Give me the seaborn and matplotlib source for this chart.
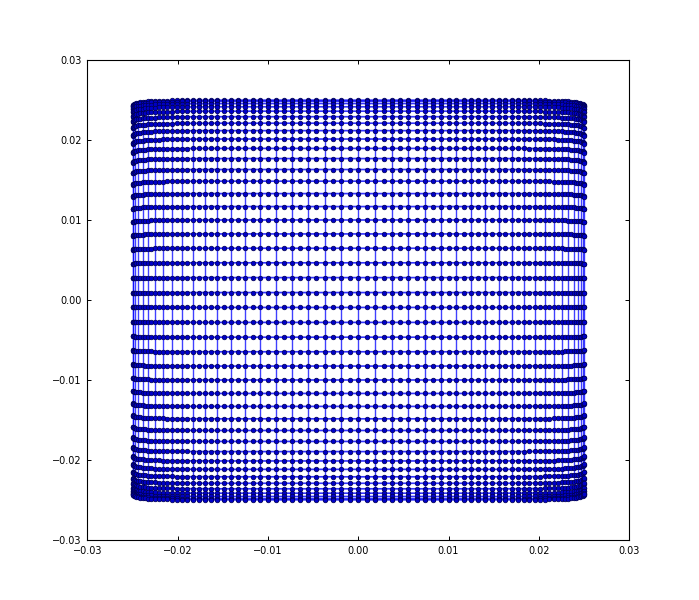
import numpy as np
import pandas as pd
import matplotlib
matplotlib.use("Agg")
import matplotlib.pyplot as plt
import seaborn as sns

# column positions of the dots (x 1e-3), left to right
x_dots = [-25.00, -24.98, -24.93, -24.84, -24.72, -24.56, -24.37, -24.15, -23.89, -23.60,
          -23.27, -22.91, -22.52, -22.10, -21.65, -21.17, -20.66, -20.12, -19.55, -18.95,
          -18.33, -17.68, -17.00, -16.31, -15.59, -14.85, -14.08, -13.30, -12.50, -11.68,
          -10.85, -10.00, -9.13, -8.26, -7.37, -6.47, -5.56, -4.65, -3.73, -2.80,
          -1.87, -0.93, 0.00, 0.93, 1.87, 2.80, 3.73, 4.65, 5.56, 6.47,
          7.37, 8.26, 9.13, 10.00, 10.85, 11.68, 12.50, 13.30, 14.08, 14.85,
          15.59, 16.31, 17.00, 17.68, 18.33, 18.95, 19.55, 20.12, 20.66, 21.17,
          21.65, 22.10, 22.52, 22.91, 23.27, 23.60, 23.89, 24.15, 24.37, 24.56,
          24.72, 24.84, 24.93, 24.98, 25.00]

# how much the rows droop towards the middle at each dot column (percent)
row_droop = [2.9, 2.6, 2.3, 2.0, 1.75, 1.5, 1.3, 1.1, 0.95, 0.8,
             0.65, 0.55, 0.45, 0.36, 0.28, 0.22, 0.17, 0.13, 0.10, 0.07,
             0.05, 0.03, 0.02, 0.01, 0, 0, 0, 0, 0, 0,
             0, 0, 0, 0, 0, 0, 0, 0, 0, 0,
             0, 0, 0, 0, 0, 0, 0, 0, 0, 0,
             0, 0, 0, 0, 0, 0, 0, 0, 0, 0,
             0, 0.01, 0.02, 0.03, 0.05, 0.07, 0.10, 0.13, 0.17, 0.22,
             0.28, 0.36, 0.45, 0.55, 0.65, 0.8, 0.95, 1.1, 1.3, 1.5,
             1.75, 2.0, 2.3, 2.6, 2.9]

# columns that also carry a vertical line
x_lines = [-25.00, -24.93, -24.72, -24.37, -23.89, -23.27, -22.52, -21.65, -20.66, -19.55,
           -18.33, -17.00, -15.59, -14.08, -12.50, -10.85, -9.13, -7.37, -5.56, -3.73,
           -1.87, 0.00, 1.87, 3.73, 5.56, 7.37, 9.13, 10.85, 12.50, 14.08,
           15.59, 17.00, 18.33, 19.55, 20.66, 21.65, 22.52, 23.27, 23.89, 24.37,
           24.72, 24.93, 25.00]

# row heights at the middle column (x 1e-3), top to bottom
y_rows = [24.98, 24.84, 24.56, 24.15, 23.60, 22.91, 22.10, 21.17, 20.12, 18.95,
          17.68, 16.31, 14.85, 13.30, 11.68, 10.00, 8.26, 6.47, 4.65, 2.80,
          0.93, -0.93, -2.80, -4.65, -6.47, -8.26, -10.00, -11.68, -13.30, -14.85,
          -16.31, -17.68, -18.95, -20.12, -21.17, -22.10, -22.91, -23.60, -24.15, -24.56,
          -24.84, -24.98]

ticks = [-0.03, -0.02, -0.01, 0.00, 0.01, 0.02, 0.03]

#.....
droop = dict(zip(x_dots, row_droop))
rows = []
for r, y in enumerate(y_rows):
    for x in x_dots:
        rows.append((r, x * 1e-3, y * 1e-3 * (1 - droop[x] / 100)))
pts = pd.DataFrame(rows, columns=["row", "x", "y"])

cols = []
for c, x in enumerate(x_lines):
    for y in y_rows:
        cols.append((c, x * 1e-3, y * 1e-3 * (1 - droop[x] / 100)))
vlines = pd.DataFrame(cols, columns=["col", "x", "y"])

fig = plt.figure(figsize=(6.99, 6), dpi=100)
ax = fig.add_axes([0.125, 0.1, 0.775, 0.8])

sns.lineplot(data=vlines, x="x", y="y", units="col", estimator=None,
             color="blue", lw=1.0, alpha=0.75, ax=ax, legend=False)
sns.lineplot(data=pts, x="x", y="y", units="row", estimator=None,
             color="blue", lw=1.2, alpha=0.8, ax=ax, legend=False)
sns.scatterplot(data=pts, x="x", y="y", color="#0000c8", edgecolor="#000050",
                linewidth=0.5, s=11, ax=ax, legend=False, zorder=3)

ax.set_xlim(-0.03, 0.03)
ax.set_ylim(-0.03, 0.03)
ax.set_xticks(ticks)
ax.set_yticks(ticks)
ax.set_xlabel("")
ax.set_ylabel("")
ax.tick_params(direction="in", top=True, right=True, length=3, width=0.7,
               labelsize=7, pad=4, colors="black")
for s in ax.spines.values():
    s.set_color("black")
    s.set_linewidth(0.8)

fig.savefig("out.png", dpi=100, facecolor="white")
